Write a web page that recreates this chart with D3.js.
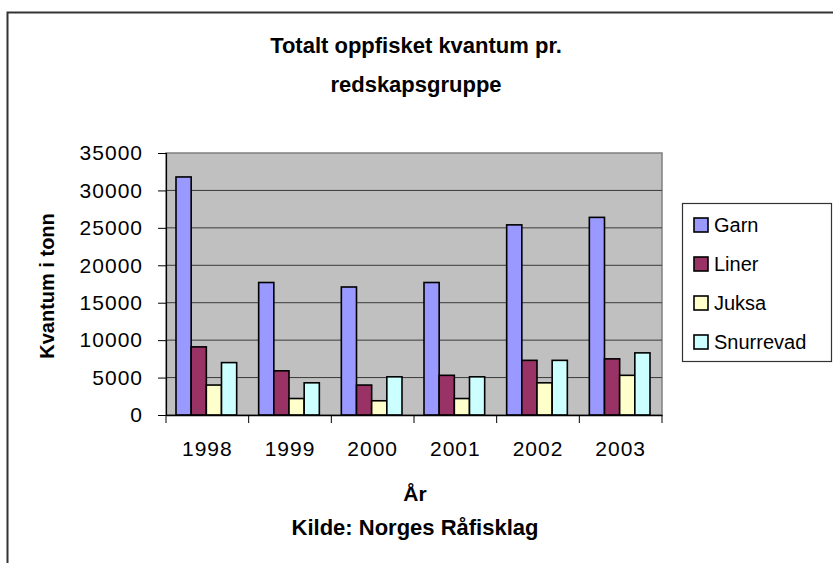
<!DOCTYPE html>
<html>
<head>
<meta charset="utf-8">
<script src="https://cdn.jsdelivr.net/npm/d3@7"></script>
<style>
  body { margin: 0; background: #fff; }
  svg { display: block; font-family: "Liberation Sans", Arial, sans-serif; }
</style>
</head>
<body>
<main></main>
<script>
const width = 833;
const height = 563;
const plot = { left: 166, right: 662, top: 153, bottom: 415 };

const years = ['1998', '1999', '2000', '2001', '2002', '2003'];
const series = ['Garn', 'Liner', 'Juksa', 'Snurrevad'];
const colors = ['#9999FF', '#993366', '#FFFFCC', '#CCFFFF'];
const garn = [31800, 17700, 17100, 17700, 25400, 26400];
const liner = [9100, 5900, 4000, 5300, 7300, 7500];
const juksa = [4000, 2200, 1900, 2200, 4300, 5300];
const snurrevad = [7000, 4300, 5100, 5100, 7300, 8300];
const yTicks = [0, 5000, 10000, 15000, 20000, 25000, 30000, 35000];

const values = [garn, liner, juksa, snurrevad];

const createCanvas = () => {
    const svg = d3.select('main')
                  .append('svg')
                  .attr('width', width)
                  .attr('height', height);
    svg.append('rect')
       .attr('width', width).attr('height', height)
       .attr('fill', '#fff');
    // outer chart frame, runs off the right and bottom edge
    svg.append('rect')
       .attr('x', 7.5).attr('y', 12.5)
       .attr('width', 900).attr('height', 700)
       .attr('fill', 'none')
       .attr('stroke', '#333')
       .attr('stroke-width', 2);
    return svg;
};

const defineScales = () => {
    const x0 = d3.scaleBand().domain(years).range([plot.left, plot.right]);
    const x1 = d3.scaleBand().domain(series)
                 .range([10, x0.bandwidth() - 12]);
    const y = d3.scaleLinear().domain([0, 35000])
                .range([plot.bottom, plot.top]);
    return { x0, x1, y };
};

const createPlotArea = (svg, scales) => {
    svg.append('rect')
       .attr('x', plot.left).attr('y', plot.top)
       .attr('width', plot.right - plot.left)
       .attr('height', plot.bottom - plot.top)
       .attr('fill', '#C0C0C0')
       .attr('stroke', '#808080')
       .attr('stroke-width', 1.5);

    svg.append('g')
       .selectAll('line')
       .data(yTicks.slice(1, -1))
       .enter()
       .append('line')
       .attr('x1', plot.left).attr('x2', plot.right)
       .attr('y1', d => scales.y(d)).attr('y2', d => scales.y(d))
       .attr('stroke', '#3a3a3a')
       .attr('stroke-width', 1);
};

const createBars = (svg, scales) => {
    const groups = svg.append('g')
       .selectAll('g')
       .data(years)
       .enter()
       .append('g')
       .attr('transform', d => 'translate(' + scales.x0(d) + ',0)');

    groups.selectAll('rect')
       .data((d, i) => series.map((s, j) => ({ s, j, v: values[j][i] })))
       .enter()
       .append('rect')
       .attr('x', d => scales.x1(d.s))
       .attr('y', d => scales.y(d.v))
       .attr('width', scales.x1.bandwidth())
       .attr('height', d => plot.bottom - scales.y(d.v))
       .attr('fill', d => colors[d.j])
       .attr('stroke', '#000')
       .attr('stroke-width', 1.6);
};

const createAxis = (svg, scales) => {
    const yAxis = svg.append('g')
       .attr('transform', 'translate(' + plot.left + ',0)')
       .call(d3.axisLeft(scales.y).tickValues(yTicks).tickFormat(d3.format('d'))
               .tickSize(8).tickPadding(15));
    yAxis.select('.domain').attr('stroke', '#000').attr('stroke-width', 1.2);
    yAxis.selectAll('.tick line').attr('stroke', '#000');
    yAxis.selectAll('text')
         .attr('font-size', 21)
         .attr('letter-spacing', 1)
         .attr('fill', '#000')
         .attr('font-family', '"Liberation Sans", Arial, sans-serif');

    const xAxis = svg.append('g')
       .attr('transform', 'translate(0,' + plot.bottom + ')')
       .call(d3.axisBottom(scales.x0).tickSize(0).tickPadding(26));
    xAxis.select('.domain').attr('stroke', '#000').attr('stroke-width', 1.5);
    xAxis.selectAll('text')
         .attr('font-size', 21)
         .attr('letter-spacing', 1)
         .attr('fill', '#000')
         .attr('font-family', '"Liberation Sans", Arial, sans-serif');

    // tick marks sit on the category boundaries
    const bounds = years.map(d => scales.x0(d)).concat([plot.right]);
    xAxis.selectAll('.bound')
         .data(bounds)
         .enter()
         .append('line')
         .attr('class', 'bound')
         .attr('x1', d => d).attr('x2', d => d)
         .attr('y1', 0).attr('y2', 8)
         .attr('stroke', '#000');
};

const createTitles = (svg) => {
    const title = svg.append('text')
       .attr('text-anchor', 'middle')
       .attr('font-weight', 'bold')
       .attr('font-size', 22);
    title.append('tspan').attr('x', 416).attr('y', 53).text('Totalt oppfisket kvantum pr.');
    title.append('tspan').attr('x', 416).attr('y', 92).text('redskapsgruppe');

    svg.append('text')
       .attr('x', 415).attr('y', 501)
       .attr('text-anchor', 'middle')
       .attr('font-weight', 'bold')
       .attr('font-size', 21)
       .text('År');

    svg.append('text')
       .attr('x', 415).attr('y', 535)
       .attr('text-anchor', 'middle')
       .attr('font-weight', 'bold')
       .attr('font-size', 22)
       .text('Kilde: Norges Råfisklag');

    svg.append('text')
       .attr('transform', 'translate(54,286) rotate(-90)')
       .attr('text-anchor', 'middle')
       .attr('font-weight', 'bold')
       .attr('font-size', 20)
       .text('Kvantum i tonn');
};

const createLegend = (svg) => {
    const lg = svg.append('g');
    lg.append('rect')
      .attr('x', 682.5).attr('y', 203.5)
      .attr('width', 149).attr('height', 158)
      .attr('fill', '#fff')
      .attr('stroke', '#333')
      .attr('stroke-width', 1.2);
    const items = lg.selectAll('g')
      .data(series)
      .enter()
      .append('g')
      .attr('transform', (d, i) => 'translate(694,' + (225 + i * 39) + ')');
    items.append('rect')
      .attr('x', 0).attr('y', -7)
      .attr('width', 14).attr('height', 14)
      .attr('fill', (d, i) => colors[i])
      .attr('stroke', '#000')
      .attr('stroke-width', 1.6);
    items.append('text')
      .attr('x', 20).attr('y', 7)
      .attr('font-size', 20)
      .text(d => d);
};

const driver = () => {
    const svg = createCanvas();
    const scales = defineScales();
    createPlotArea(svg, scales);
    createBars(svg, scales);
    createAxis(svg, scales);
    createTitles(svg);
    createLegend(svg);
};

driver();
</script>
</body>
</html>
